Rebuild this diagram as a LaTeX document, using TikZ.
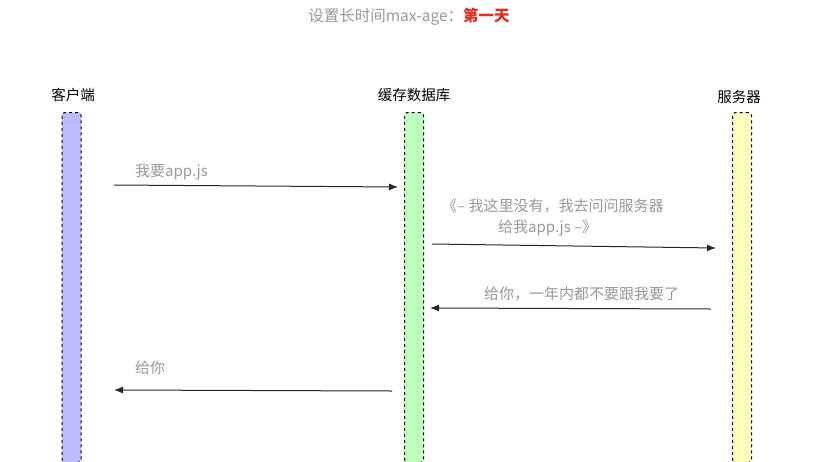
\documentclass[tikz,border=0pt]{standalone}
\usepackage{fontspec}
\setmainfont{Liberation Sans}
\newfontfamily\cjk{Noto Sans CJK SC}
\usetikzlibrary{arrows.meta}
\definecolor{txtgray}{HTML}{999999}
\definecolor{titred}{HTML}{E8291C}
\definecolor{clientfill}{HTML}{BBBBFF}
\definecolor{cachefill}{HTML}{BBFFBB}
\definecolor{serverfill}{HTML}{FFFFBB}
\begin{document}
\begin{tikzpicture}[x=1pt,y=-1pt,
  lifebar/.style={draw=black,dashed,line width=1pt,rounded corners=3pt,minimum width=19pt,minimum height=350pt,inner sep=0pt,anchor=north},
  head/.style={font=\cjk\fontsize{14.5}{16}\selectfont,text=black},
  msg/.style={font=\cjk\fontsize{15}{17}\selectfont,text=txtgray,anchor=west,inner sep=0pt},
  arr/.style={-{Latex[length=9pt,width=7pt]},line width=1pt,draw=black!85}]
\useasboundingbox (0,0) rectangle (819,461);
\node[font=\cjk\fontsize{15.5}{17}\selectfont] (title) at (409,17) {\textcolor{txtgray}{设置长时间max-age：}\textcolor{titred}{\bfseries 第一天}};
\node[head] (hc) at (73,95) {客户端};
\node[head] (hd) at (414,95) {缓存数据库};
\node[head] (hs) at (739,97) {服务器};
\node[lifebar,fill=clientfill] (client) at (71.5,112) {};
\node[lifebar,fill=cachefill] (cache) at (414,112) {};
\node[lifebar,fill=serverfill] (server) at (742,112) {};
\coordinate (a1s) at (114,185);
\coordinate (a1e) at (398,187);
\coordinate (a2s) at (432,244);
\coordinate (a2e) at (716,248);
\coordinate (a3s) at (711,309);
\coordinate (a3e) at (430,308);
\coordinate (a4s) at (392,391);
\coordinate (a4e) at (114,390);
\draw[arr] (a1s) -- (a1e);
\draw[arr] (a2s) -- (a2e);
\draw[arr] (a3s) -- (a3e);
\draw[arr] (a4s) -- (a4e);
\node[msg] (m1) at (135,172) {我要app.js};
\node[msg] (m2a) at (442,206) {《– 我这里没有，我去问问服务器};
\node[msg] (m2b) at (498,228) {给我app.js –》};
\node[msg] (m3) at (484,294) {给你，一年内都不要跟我要了};
\node[msg] (m4) at (135,368) {给你};
\end{tikzpicture}
\end{document}
